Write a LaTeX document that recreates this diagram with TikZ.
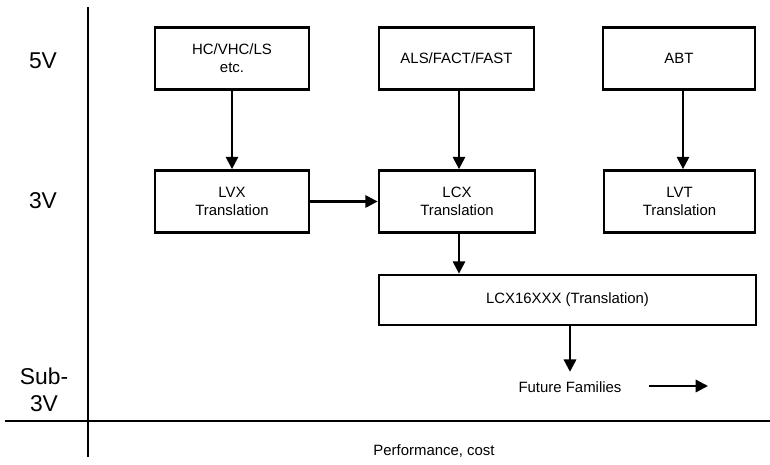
\documentclass[tikz,border=0pt]{standalone}
\usepackage{fontspec}
\setmainfont{Liberation Sans}
\usetikzlibrary{positioning,
        shapes,
        arrows.meta}

\begin{document}
\begin{tikzpicture}[x=0.02cm,y=-0.02cm,
        family/.style={draw,line width=1.6pt,minimum width=3.08cm,minimum height=1.24cm,
                align=center,font=\fontsize{8.5}{10.2}\selectfont},
        arr/.style={-{Triangle[length=7pt,width=7pt]},line width=1.3pt},
        volt/.style={font=\fontsize{13}{15}\selectfont,align=center}]
            \useasboundingbox (0,0) rectangle (770,465);

            % axes
            \draw [line width=1.2pt] (88,7) -- (88,457);
            \draw [line width=1.2pt] (5,421) -- (770,421);

            \node [volt] (v5) at (43,61) {5V};
            \node [volt] (v3) at (43,201) {3V};
            \node [volt] (vsub) at (44,390) {Sub-\\3V};
            \node [font=\fontsize{8.5}{10}\selectfont] (perf) at (434,451) {Performance, cost};

            \node [family] (HC) at (232,58.5) {HC/VHC/LS\\etc.};
            \node [family,minimum width=3.1cm] (ALS) at (456.5,58.5) {ALS/FACT/FAST};
            \node [family,minimum width=3.04cm] (ABT) at (679,58.5) {ABT};
            \node [family] (LVX) at (232,201.5) {LVX\\Translation};
            \node [family,minimum width=3.12cm] (LCX) at (457,201.5) {LCX\\Translation};
            \node [family,minimum width=3.02cm] (LVT) at (679.5,201.5) {LVT\\Translation};
            \node [family,minimum width=7.54cm,minimum height=1cm] (LCX16) at (567.5,300) {LCX16XXX (Translation)};
            \node [font=\fontsize{8.5}{10}\selectfont] (future) at (570,387) {Future Families};
            \coordinate (trend) at (708,386);

            \draw [arr] (HC) -- (LVX);
            \draw [arr] (ALS.south -| 459,0) -- (LCX.north -| 459,0);
            \draw [arr] (ABT.south -| 683,0) -- (LVT.north -| 683,0);
            \draw [arr] (LVX) -- (LCX);
            \draw [arr] (LCX.south -| 459,0) -- (LCX16.north -| 459,0);
            \draw [arr,shorten >=2pt] (LCX16.south -| future.north) -- (future.north);
            \draw [arr,shorten <=12pt] (future.east |- trend) -- (trend);
        \end{tikzpicture}
\end{document}
